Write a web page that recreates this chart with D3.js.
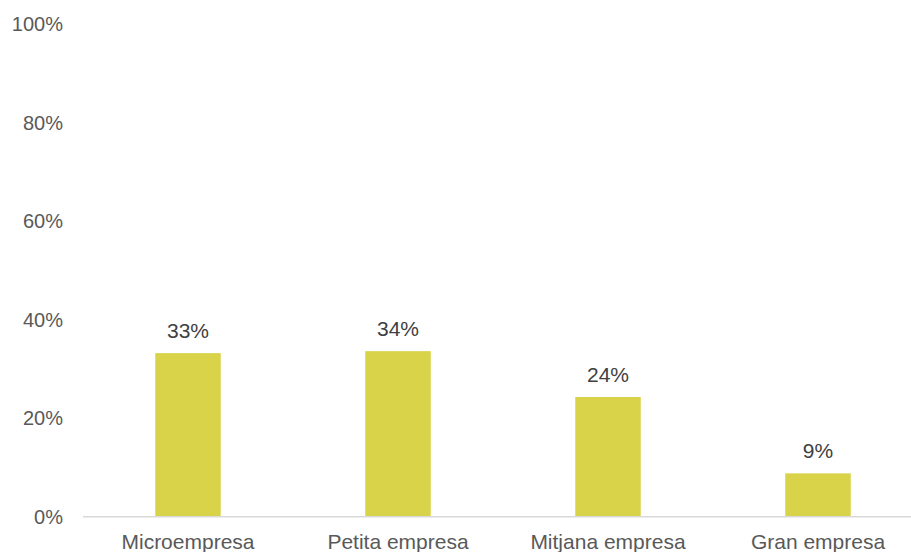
<!DOCTYPE html>
<html>
<head>
<meta charset="utf-8">
<script src="https://cdn.jsdelivr.net/npm/d3@7"></script>
<style>
  body { margin: 0; background: #fff; }
  text { font-family: "Liberation Sans", Arial, sans-serif; }
</style>
</head>
<body>
<script>
// chart values
var categories = ["Microempresa", "Petita empresa", "Mitjana empresa", "Gran empresa"]
var values = [33.2, 33.6, 24.3, 8.8]
var labels = ["33%", "34%", "24%", "9%"]
var yTicks = [0, 20, 40, 60, 80, 100]

var width = 911,
    height = 552

var svg = d3.select("body")
  .append("svg")
    .attr("width", width)
    .attr("height", height)

// x band scale, last band runs past the right edge like the original
var x = d3.scaleBand()
  .domain(categories)
  .range([83, 923])
  .paddingInner(0.688)
  .paddingOuter(0.344)

var y = d3.scaleLinear()
  .domain([0, 100])
  .range([516.7, 24])

// y tick labels
svg.append("g")
  .selectAll("text")
  .data(yTicks)
  .enter()
  .append("text")
    .attr("x", 63)
    .attr("y", function(d) { return y(d) })
    .attr("dy", "0.35em")
    .attr("text-anchor", "end")
    .style("font-size", "20px")
    .style("fill", "#595959")
    .text(function(d) { return d + "%" })

// bars
svg.append("g")
  .selectAll("rect")
  .data(values)
  .enter()
  .append("rect")
    .attr("x", function(d, i) { return x(categories[i]) })
    .attr("y", function(d) { return y(d) })
    .attr("width", x.bandwidth())
    .attr("height", function(d) { return y(0) - y(d) })
    .attr("fill", "#d9d34a")

// baseline
svg.append("line")
  .attr("x1", 83)
  .attr("x2", width)
  .attr("y1", y(0))
  .attr("y2", y(0))
  .attr("stroke", "#d9d9d9")
  .attr("stroke-width", 1.5)

// value labels
svg.append("g")
  .selectAll("text")
  .data(values)
  .enter()
  .append("text")
    .attr("x", function(d, i) { return x(categories[i]) + x.bandwidth() / 2 })
    .attr("y", function(d) { return y(d) - 15 })
    .attr("text-anchor", "middle")
    .style("font-size", "21px")
    .style("fill", "#404040")
    .text(function(d, i) { return labels[i] })

// category labels
svg.append("g")
  .selectAll("text")
  .data(categories)
  .enter()
  .append("text")
    .attr("x", function(d) { return x(d) + x.bandwidth() / 2 })
    .attr("y", 549)
    .attr("text-anchor", "middle")
    .style("font-size", "21px")
    .style("fill", "#595959")
    .text(function(d) { return d })
</script>
</body>
</html>
